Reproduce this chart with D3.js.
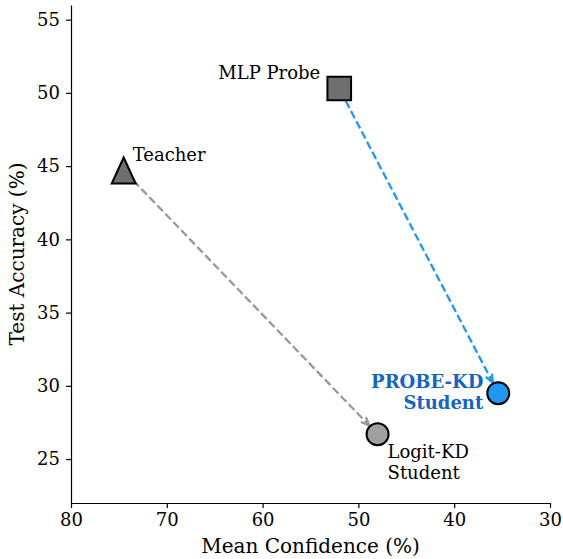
<!DOCTYPE html>
<html>
<head>
<meta charset="utf-8">
<script src="https://cdn.jsdelivr.net/npm/d3@7"></script>
<style>
body { margin: 0; background: #fff; }
text { font-family: "DejaVu Serif", serif; }
</style>
</head>
<body>
<script>
// models: mean confidence vs test accuracy
var names = ["Teacher", "MLP Probe", "Logit-KD Student", "PROBE-KD Student"]
var confidence = [74.5, 52.0, 48.0, 35.4]
var accuracy = [44.7, 50.3, 26.7, 29.5]
var shapes = ["triangle", "square", "circle", "circle"]
var fills = ["#6f6f6f", "#6f6f6f", "#a0a0a0", "#2196f3"]
// arrows: from index -> to index
var arrows = [[0, 2, "#999999"], [1, 3, "#2196f3"]]
var xTicks = [80, 70, 60, 50, 40, 30]
var yTicks = [25, 30, 35, 40, 45, 50, 55]

var width = 563
var height = 559
var margin = {left: 71, right: 13, top: 5, bottom: 56}

var svg = d3.select("body").append("svg")
  .attr("width", width)
  .attr("height", height)

var x = d3.scaleLinear().domain([80, 30]).range([margin.left, width - margin.right])
var y = d3.scaleLinear().domain([22, 56]).range([height - margin.bottom, margin.top])

// axes
var xAxis = svg.append("g")
  .attr("transform", "translate(0," + (height - margin.bottom) + ")")
  .call(d3.axisBottom(x).tickValues(xTicks).tickSize(5).tickPadding(5).tickSizeOuter(0))
var yAxis = svg.append("g")
  .attr("transform", "translate(" + margin.left + ",0)")
  .call(d3.axisLeft(y).tickValues(yTicks).tickSize(5).tickPadding(6).tickSizeOuter(0))

svg.selectAll(".tick text").style("font-size", "18px").attr("fill", "#000")
svg.selectAll(".domain, .tick line").attr("stroke", "#000").attr("stroke-width", 1.2)

svg.append("text").text("Mean Confidence (%)")
  .attr("x", (margin.left + width - margin.right) / 2).attr("y", 553)
  .attr("text-anchor", "middle").style("font-size", "20px")
svg.append("text").text("Test Accuracy (%)")
  .attr("transform", "translate(24," + ((margin.top + height - margin.bottom) / 2) + ") rotate(-90)")
  .attr("text-anchor", "middle").style("font-size", "20px")

// dashed arrows between points
arrows.forEach(function(a) {
  var x0 = x(confidence[a[0]]), y0 = y(accuracy[a[0]])
  var x1 = x(confidence[a[1]]), y1 = y(accuracy[a[1]])
  var dx = x1 - x0, dy = y1 - y0
  var len = Math.sqrt(dx * dx + dy * dy)
  var ux = dx / len, uy = dy / len
  var sx = x0 + ux * 14, sy = y0 + uy * 14
  var ex = x1 - ux * 12, ey = y1 - uy * 12
  svg.append("line")
    .attr("x1", sx).attr("y1", sy).attr("x2", ex).attr("y2", ey)
    .attr("stroke", a[2]).attr("stroke-width", 2.3)
    .attr("stroke-dasharray", "8,3.5")
  var ang = Math.atan2(uy, ux)
  var hl = 9, spread = 0.4
  var p1 = [ex - hl * Math.cos(ang - spread), ey - hl * Math.sin(ang - spread)]
  var p2 = [ex - hl * Math.cos(ang + spread), ey - hl * Math.sin(ang + spread)]
  svg.append("path")
    .attr("d", "M" + p1 + "L" + ex + "," + ey + "L" + p2)
    .attr("fill", "none").attr("stroke", a[2]).attr("stroke-width", 2.3)
})

// markers (triangle drawn like matplotlib "^": as tall as wide)
var tallTriangle = {
  draw: function(ctx, size) {
    var r = Math.sqrt(size) / 2
    ctx.moveTo(0, -r)
    ctx.lineTo(r * 0.92, r)
    ctx.lineTo(-r * 0.92, r)
    ctx.closePath()
  }
}
var symbolType = {triangle: tallTriangle, square: d3.symbolSquare, circle: d3.symbolCircle}
var symbolSize = {triangle: 676, square: 560, circle: 380}
svg.append("g").selectAll("path")
  .data(names)
  .enter()
  .append("path")
  .attr("d", function(d, i) { return d3.symbol().type(symbolType[shapes[i]]).size(symbolSize[shapes[i]])() })
  .attr("transform", function(d, i) {
    return "translate(" + x(confidence[i]) + "," + y(accuracy[i]) + ")"
  })
  .attr("fill", function(d, i) { return fills[i] })
  .attr("stroke", "#000").attr("stroke-width", 2)

// labels
svg.append("text").text("Teacher")
  .attr("x", x(confidence[0]) + 9).attr("y", y(accuracy[0]) - 10)
  .style("font-size", "18px")
svg.append("text").text("MLP Probe")
  .attr("x", x(confidence[1]) - 19).attr("y", y(accuracy[1]) - 9)
  .attr("text-anchor", "end").style("font-size", "18px")

var lk = svg.append("text")
  .attr("x", x(confidence[2]) + 10).attr("y", y(accuracy[2]) + 24)
  .style("font-size", "18px")
lk.append("tspan").text("Logit-KD")
lk.append("tspan").text("Student").attr("x", x(confidence[2]) + 10).attr("dy", 20.5)

var pk = svg.append("text")
  .attr("x", x(confidence[3]) - 15).attr("y", y(accuracy[3]) - 5)
  .attr("text-anchor", "end").style("font-size", "18px").style("font-weight", "bold")
  .attr("fill", "#1565c0")
pk.append("tspan").text("PROBE-KD")
pk.append("tspan").text("Student").attr("x", x(confidence[3]) - 15).attr("dy", 21)
</script>
</body>
</html>
